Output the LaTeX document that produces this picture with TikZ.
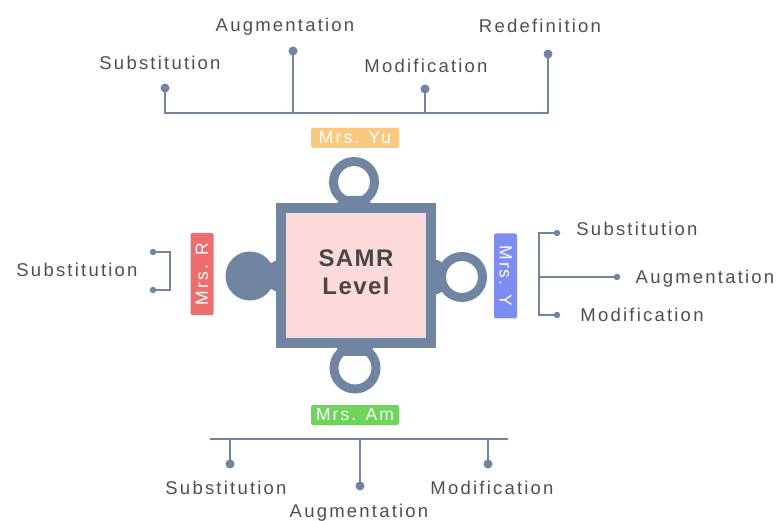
\documentclass[tikz,border=0pt]{standalone}
\usepackage{fontspec}
\setmainfont{Liberation Sans}[LetterSpace=12]
\newfontfamily\samrfont{Liberation Sans}[LetterSpace=6]
\definecolor{slate}{HTML}{7085A2}
\definecolor{txt}{HTML}{4F4F4F}
\definecolor{pinkf}{HTML}{FDDADA}
\definecolor{yuc}{HTML}{F9C97F}
\definecolor{amc}{HTML}{6ED45C}
\definecolor{rc}{HTML}{EE6E6E}
\definecolor{yc}{HTML}{7D8DF2}
\begin{document}
\begin{tikzpicture}[x=1pt,y=-1pt,
  lbl/.style={font=\fontsize{18.5}{20}\selectfont, text=txt, inner sep=0pt, anchor=base},
  tag/.style={font=\fontsize{17.5}{18}\selectfont, text=white, rounded corners=2pt, inner sep=0pt},
  dot/.style={circle, fill=slate, inner sep=0pt, minimum size=9pt},
  sdot/.style={circle, fill=slate, inner sep=0pt, minimum size=6.5pt},
  br/.style={draw=slate, line width=2.8pt},
  sbr/.style={draw=slate, line width=2pt}]
\useasboundingbox (0,0) rectangle (777,521);

% puzzle piece
\fill[slate] (250,276) circle (24.5);
\fill[slate] (281,259) to[out=180,in=-60] (262,264) -- (262,288) to[out=60,in=180] (281,293) -- cycle;
\draw[slate, line width=9pt] (354,182) circle (20.5);
\fill[slate] (334,205) to[out=-90,in=210] (343,196) -- (365,196) to[out=-30,in=-90] (374,205) -- cycle;
\draw[slate, line width=9pt] (462,277) circle (20.5);
\fill[slate] (430,259) to[out=0,in=120] (445,266) -- (445,288) to[out=-120,in=0] (430,295) -- cycle;
\draw[slate, line width=9pt] (355,368) circle (21);
\fill[slate] (334,346) to[out=90,in=150] (343,356) -- (367,356) to[out=30,in=90] (376,346) -- cycle;
\node[draw=slate, line width=10pt, fill=pinkf, minimum width=150.5pt, minimum height=135.5pt, inner sep=0pt] (samr) at (355.75,275.75) {};
\node[font=\samrfont\bfseries\fontsize{24}{26}\selectfont, text=black!72, anchor=base, inner sep=0pt] (t1) at (356,267) {SAMR};
\node[font=\samrfont\bfseries\fontsize{24}{26}\selectfont, text=black!72, anchor=base, inner sep=0pt] (t2) at (356,295) {Level};

% tags
\node[tag, fill=yuc, minimum width=88pt, minimum height=20pt] (yu) at (355,138) {Mrs. Yu};
\node[tag, fill=amc, minimum width=88pt, minimum height=20pt] (am) at (355,415) {Mrs. Am};
\node[tag, fill=rc, rotate=90, minimum width=82pt, minimum height=23pt] (mr) at (202,274) {Mrs. R};
\node[tag, fill=yc, rotate=-90, minimum width=85pt, minimum height=23pt] (my) at (505.5,276) {Mrs. Y};

% top tree
\node[dot] (ts) at (165,88) {};
\node[dot] (ta) at (293,51) {};
\node[dot] (tm) at (425,89) {};
\node[dot] (tr) at (548,54) {};
\coordinate (tb) at (355,113);
\draw[br] (ts.center) |- (tb) -| (tr.center);
\draw[br] (ta.center) -- (ta.center |- tb);
\draw[br] (tm.center) -- (tm.center |- tb);
\node[lbl] (l1) at (160,70) {Substitution};
\node[lbl] (l2) at (285,32) {Augmentation};
\node[lbl] (l3) at (426,73) {Modification};
\node[lbl] (l4) at (540,33) {Redefinition};

% bottom tree
\coordinate (bl) at (210,439);
\coordinate (bre) at (508,439);
\node[dot] (bs) at (230,464) {};
\node[dot] (ba) at (360,486) {};
\node[dot] (bm) at (488,464) {};
\draw[br] (bl) -- (bre);
\draw[br] (bs.center) -- (bs.center |- bl);
\draw[br] (ba.center) -- (ba.center |- bl);
\draw[br] (bm.center) -- (bm.center |- bl);
\node[lbl] (l5) at (226,494) {Substitution};
\node[lbl] (l6) at (359,517) {Augmentation};
\node[lbl] (l7) at (492,494) {Modification};

% right tree
\coordinate (rt) at (539,233);
\node[sdot] (rs) at (557,233) {};
\node[sdot] (ra) at (617,277) {};
\node[sdot] (rm) at (557,315) {};
\draw[sbr] (rs.center) -- (rt) |- (rm.center);
\draw[sbr] (ra.center) -- (ra.center -| rt);
\node[lbl] (l8) at (637,236) {Substitution};
\node[lbl] (l9) at (705,284) {Augmentation};
\node[lbl] (l10) at (642,322) {Modification};

% left tree
\node[sdot] (ls1) at (153,252) {};
\node[sdot] (ls2) at (153,290) {};
\coordinate (lv) at (170,252);
\draw[sbr] (ls1.center) -- (lv) |- (ls2.center);
\node[lbl] (l11) at (77,277) {Substitution};
\end{tikzpicture}
\end{document}
